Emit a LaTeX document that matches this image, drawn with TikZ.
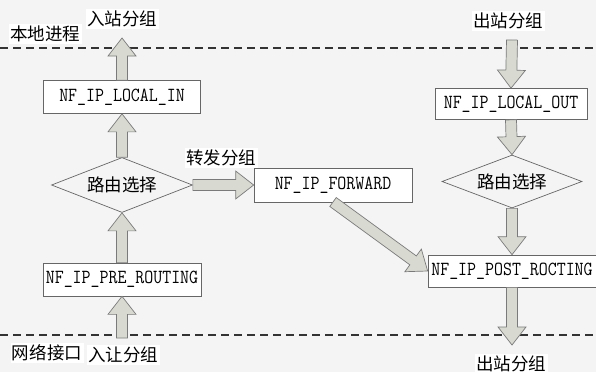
\documentclass[tikz,border=0pt]{standalone}
\usepackage{fontspec}
\usepackage{graphicx}
\newfontfamily\cjk{Noto Sans CJK SC}
\usetikzlibrary{calc,shapes.geometric}
\definecolor{bgc}{HTML}{F4F4F4}
\definecolor{arrfill}{HTML}{D8DAD2}
\definecolor{arrdraw}{HTML}{7A7A7A}
\definecolor{boxdraw}{HTML}{666666}
\newcommand\monotxt[1]{\scalebox{0.87}[1]{\ttfamily\fontsize{20}{20}\selectfont #1}}
\newcommand\blockarrow[2]{%
  \coordinate (hb) at ($(#2)!18pt!(#1)$);
  \draw[barrow] ($(#1)!5.5pt!90:(#2)$) -- ($(hb)!5.5pt!90:(#2)$) -- ($(hb)!14pt!90:(#2)$) -- (#2)
    -- ($(hb)!14pt!-90:(#2)$) -- ($(hb)!5.5pt!-90:(#2)$) -- ($(#1)!5.5pt!-90:(#2)$) -- cycle;}
\begin{document}
\begin{tikzpicture}[x=1pt,y=-1pt,
  hookbox/.style={draw=boxdraw, line width=0.7pt, fill=white, inner sep=0pt},
  choice/.style={diamond, draw=boxdraw, line width=0.7pt, inner sep=0pt, font=\cjk\fontsize{17.5}{17.5}\selectfont},
  lbl/.style={fill=white, inner sep=1.5pt, font=\cjk\fontsize{17.5}{17.5}\selectfont},
  barrow/.style={fill=arrfill, draw=arrdraw, line width=0.7pt, line join=miter},
  sep/.style={draw=black!80, line width=1.8pt, dash pattern=on 8pt off 5pt}]
\fill[bgc] (0,0) rectangle (596,372);
\useasboundingbox (0,0) rectangle (596,372);
% dashed separators
\coordinate (s1l) at (0,48); \coordinate (s1r) at (596,48);
\coordinate (s2l) at (0,335); \coordinate (s2r) at (596,335);
\draw[sep] (s1l) -- (s1r);
\draw[sep] (s2l) -- (s2r);
% labels
\node[lbl] (local) at (45,34) {本地进程};
\node[lbl] (inup) at (122,19) {入站分组};
\node[lbl] (fwdl) at (221,158) {转发分组};
\node[lbl] (outtop) at (508,21) {出站分组};
\node[lbl] (netif) at (47,353) {网络接口};
\node[lbl] (inlow) at (123,355) {入让分组};
\node[lbl] (outlow) at (511,364) {出站分组};
% boxes
\node[hookbox, minimum width=157pt, minimum height=33pt] (lin) at (122,97) {\monotxt{NF\_IP\_LOCAL\_IN}};
\node[hookbox, minimum width=158pt, minimum height=33pt] (pre) at (122,279.5) {\monotxt{NF\_IP\_PRE\_ROUTING}};
\node[hookbox, minimum width=158pt, minimum height=34pt] (fwd) at (333,185) {\monotxt{NF\_IP\_FORWARD}};
\node[hookbox, minimum width=152pt, minimum height=31pt] (lout) at (511,104) {\monotxt{NF\_IP\_LOCAL\_OUT}};
\node[hookbox, minimum width=168pt, minimum height=32pt] (post) at (512,271) {\monotxt{NF\_IP\_POST\_ROCTING}};
\node[choice, minimum width=141pt, minimum height=55pt, aspect=2.56] (r1) at (122,185) {路由选择};
\node[choice, minimum width=140pt, minimum height=53pt, aspect=2.64] (r2) at (512,181.5) {路由选择};
% free ends
\coordinate (e1) at (122,38);
\coordinate (e2) at (122,338);
\coordinate (e3) at (512,40);
\coordinate (e4) at (512,345);
\coordinate (fs) at (333,202);
% arrows
\blockarrow{lin.north}{e1}
\blockarrow{r1.north}{lin.south}
\blockarrow{pre.north}{r1.south}
\blockarrow{e2}{pre.south}
\blockarrow{r1.east}{fwd.west}
\blockarrow{e3}{lout.north}
\blockarrow{lout.south}{r2.north}
\blockarrow{r2.south}{post.north}
\blockarrow{post.south}{e4}
\blockarrow{fs}{post.west}
\end{tikzpicture}
\end{document}
